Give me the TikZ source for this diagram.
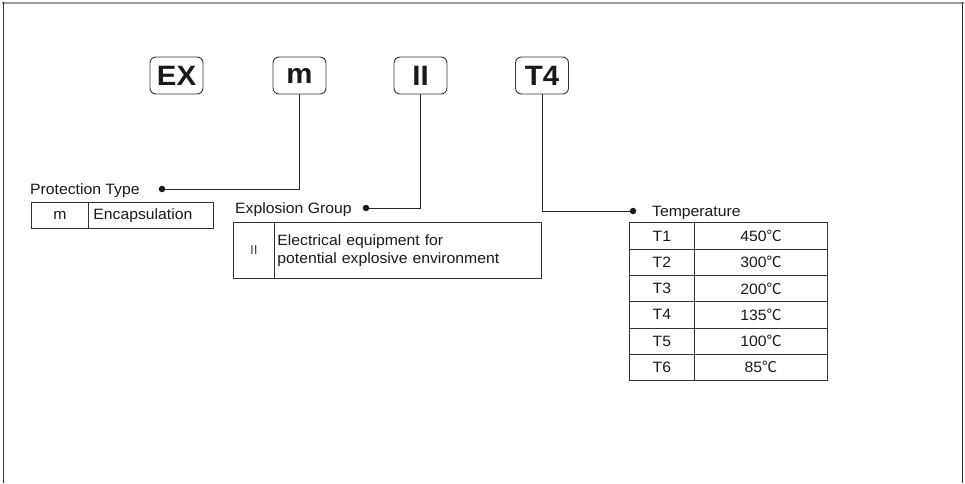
\documentclass[tikz,border=0pt]{standalone}
\usepackage{fontspec}
\setmainfont{Liberation Sans}[FakeStretch=1.05]
\newfontfamily\cjkfont{Noto Sans CJK SC}
\newcommand{\degc}{{\cjkfont ℃}}
\begin{document}
\begin{tikzpicture}[x=1pt,y=-1pt,
  topbox/.style={draw=black!80, rounded corners=6pt, line width=0.9pt, minimum width=53pt, minimum height=37pt, inner sep=0pt, text=black!90, font=\fontsize{28}{28}\selectfont\bfseries},
  lbl/.style={anchor=base west, inner sep=0pt, text=black!90, font=\fontsize{15}{17}\selectfont},
  cell/.style={draw=black!80, line width=0.8pt, anchor=north west, inner sep=0pt, text=black!90, font=\fontsize{15}{17}\selectfont},
  dotn/.style={circle, fill=black!90, inner sep=0pt, minimum size=6.5pt},
  conn/.style={draw=black!85, line width=0.9pt}
]
\useasboundingbox (0,0) rectangle (965,483);
% frame (open at bottom)
\draw[gray!80, line width=2pt] (2,2.5) -- (963.5,2.5);
\draw[black!80, line width=1.2pt] (3.5,2) -- (3.5,483);
\draw[black!80, line width=1.2pt] (962.5,2) -- (962.5,483);

% top code boxes
\node[topbox] (ex) at (176.5,75.5) {EX};
\node[topbox] (m)  at (299.5,75.5) {m};
\node[topbox] (ii) at (420.5,75.5) {II};
\node[topbox] (t4) at (542,75.5) {T4};

% Protection type
\node[lbl] (ptl) at (30,194) {Protection Type};
\node[dotn] (dp) at (162,189) {};
\draw[conn] (m.south) |- (dp);
\node[cell, minimum width=57pt, minimum height=26pt] (pa) at (31,202) {m};
\node[cell, minimum width=125pt, minimum height=26pt, text width=115pt, inner xsep=5pt, align=left] (pb) at (88,202) {Encapsulation};

% Explosion group
\node[lbl] (egl) at (235,213.5) {Explosion Group};
\node[dotn] (de) at (366,208) {};
\draw[conn] (ii.south) |- (de);
\node[cell, minimum width=41pt, minimum height=56pt, font=\fontsize{13}{15}\selectfont, text=black!70] (ea) at (233,222) {II};
\node[cell, minimum width=267pt, minimum height=56pt, text width=261pt, inner xsep=3pt, align=left, font=\fontsize{15}{18.5}\selectfont] (eb) at (274,222) {Electrical equipment for\\potential explosive environment};

% Temperature
\node[dotn] (dt) at (633,211) {};
\draw[conn] (t4.south) |- (dt);
\node[lbl] (tl) at (652,216) {Temperature};
\foreach \i/\tn/\tv in {0/T1/450,1/T2/300,2/T3/200,3/T4/135,4/T5/100,5/T6/85}{
  \node[cell, minimum width=65pt, minimum height=26.3pt] (ta\i) at (629,222.3+26.3*\i) {\tn};
  \node[cell, minimum width=133pt, minimum height=26.3pt] (tb\i) at (694,222.3+26.3*\i) {\tv\degc};
}
\end{tikzpicture}
\end{document}
